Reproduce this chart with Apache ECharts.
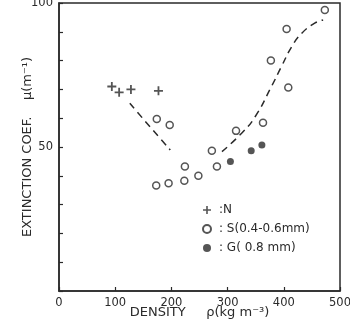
<!DOCTYPE html>
<html>
<head>
<meta charset="utf-8">
<script src="https://cdn.jsdelivr.net/npm/echarts@6/dist/echarts.min.js"></script>
<style>
  html, body {margin: 0; padding: 0; background: #fff;}
  #chart {width: 350px; height: 322px;}
</style>
</head>
<body>
<div id="chart"></div>
<script>
// density (kg m-3), extinction coef (m-1)
const nPoints = [[94, 71], [107, 69], [128, 70], [177, 69.5]];
const sPoints = [
  [173, 36.6], [195, 37.4], [174, 59.7], [197, 57.6], [223, 38.3],
  [224, 43.2], [248, 40], [272, 48.7], [281, 43.2], [315, 55.6],
  [363, 58.4], [377, 80], [405, 91], [408, 70.7], [473, 97.6]
];
const gPoints = [[305, 45], [342, 48.7], [361, 50.7]];
// dashed trend, two pieces with a gap in the middle
const trendLeft = [[126, 65.2], [162, 57], [198, 49]];
const trendRight = [
  [290, 48.4], [325, 54.8], [349, 60.5], [378, 71], [396, 78],
  [414, 84.8], [432, 89.5], [455, 93], [470, 94.1]
];
const seriesNames = [':N', ': S(0.4-0.6mm)', ': G( 0.8 mm)'];
const xTicks = [0, 100, 200, 300, 400, 500];
const yLabels = [50, 100];

const ink = '#2a2a2a';
const plusPath = 'path://M4,0 L6,0 L6,4 L10,4 L10,6 L6,6 L6,10 L4,10 L4,6 L0,6 L0,4 L4,4 Z';

const chart = echarts.init(document.getElementById('chart'), null, {renderer: 'canvas'});
chart.setOption({
  backgroundColor: '#fff',
  animation: false,
  textStyle: {fontFamily: 'DejaVu Sans', color: ink},
  grid: {
    left: 59, right: 10, top: 3, bottom: 31,
    outerBoundsMode: 'none',
    show: true, borderColor: ink, borderWidth: 1.5
  },
  legend: {
    data: seriesNames,
    orient: 'vertical',
    left: 197,
    top: 199,
    itemWidth: 8,
    itemHeight: 8,
    itemGap: 7,
    textStyle: {fontSize: 12, color: ink, fontFamily: 'DejaVu Sans', padding: [0, 0, 0, 3]}
  },
  xAxis: {
    type: 'value',
    min: 0,
    max: 500,
    interval: 100,
    name: 'DENSITY     ρ(kg m⁻³)',
    nameLocation: 'middle',
    nameGap: 15,
    nameMoveOverlap: false,
    nameTextStyle: {fontSize: 13, color: ink},
    axisLine: {lineStyle: {color: ink, width: 1.5}},
    axisTick: {inside: true, length: 4, lineStyle: {color: ink, width: 1.2}},
    axisLabel: {
      fontSize: 11.5, color: ink, margin: 6,
      formatter: function (v) { return xTicks.indexOf(v) >= 0 ? String(v) : ''; }
    },
    splitLine: {show: false}
  },
  yAxis: {
    type: 'value',
    min: 0,
    max: 100,
    interval: 10,
    name: 'EXTINCTION COEF.    μ(m⁻¹)',
    nameLocation: 'middle',
    nameRotate: 90,
    nameGap: 25,
    nameMoveOverlap: false,
    nameTextStyle: {fontSize: 13, color: ink},
    axisLine: {lineStyle: {color: ink, width: 1.5}},
    axisTick: {inside: true, length: 4, lineStyle: {color: ink, width: 1.2}},
    axisLabel: {
      fontSize: 11.5, color: ink, margin: 6,
      formatter: function (v) { return yLabels.indexOf(v) >= 0 ? String(v) : ''; }
    },
    splitLine: {show: false}
  },
  series: [
    {
      name: seriesNames[0],
      type: 'scatter',
      data: nPoints,
      symbol: plusPath,
      symbolSize: 9,
      itemStyle: {color: ink}
    },
    {
      name: seriesNames[1],
      type: 'scatter',
      data: sPoints,
      symbol: 'circle',
      symbolSize: 7,
      itemStyle: {color: '#fff', borderColor: ink, borderWidth: 1.5}
    },
    {
      name: seriesNames[2],
      type: 'scatter',
      data: gPoints,
      symbol: 'circle',
      symbolSize: 7,
      itemStyle: {color: ink}
    },
    {
      type: 'line',
      data: trendLeft,
      showSymbol: false,
      smooth: true,
      lineStyle: {color: ink, width: 1.5, type: [7, 5]},
      z: 1
    },
    {
      type: 'line',
      data: trendRight,
      showSymbol: false,
      smooth: true,
      lineStyle: {color: ink, width: 1.5, type: [7, 5]},
      z: 1
    }
  ]
});
</script>
</body>
</html>
